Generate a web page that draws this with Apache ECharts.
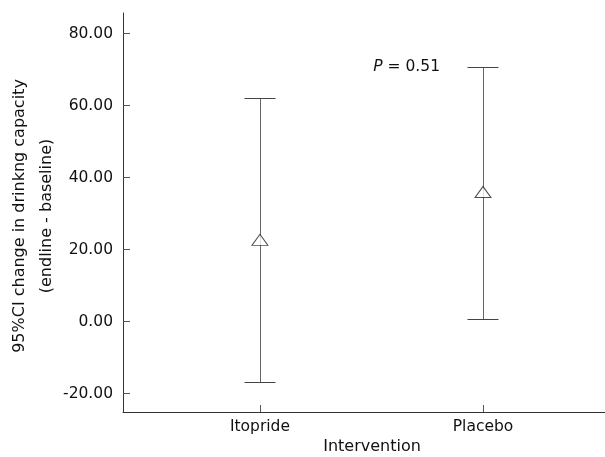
<!DOCTYPE html>
<html>
<head>
    <meta charset="utf-8">
    <title>95%CI change</title>
    <script src="https://cdn.jsdelivr.net/npm/echarts@6/dist/echarts.min.js"></script>
</head>
<body style="margin:0">
    <div id="main" style="width:605px;height:457px;"></div>
    <script type="text/javascript">
        // data
        var categories = ['Itopride', 'Placebo'];
        var means = [22.7, 36.0];
        var lower = [-16.7, 0.8];
        var upper = [62.1, 70.6];
        var yTicks = [-20, 0, 20, 40, 60, 80];

        var font = 'DejaVu Sans';
        var myChart = echarts.init(document.getElementById('main'));

        var barData = categories.map(function (c, i) {
            return [i, lower[i], upper[i]];
        });
        var meanData = categories.map(function (c, i) {
            return [i, means[i]];
        });

        function px(v) { return Math.round(v) + 0.5; }

        option = {
            animation: false,
            grid: { left: 123, right: 0, top: 13, bottom: 45 },
            xAxis: {
                type: 'value',
                min: -0.614,
                max: 1.547,
                splitLine: { show: false },
                axisLine: { onZero: false, lineStyle: { color: '#333', width: 1 } },
                axisTick: { inside: true, length: 7, customValues: [0, 1], lineStyle: { color: '#555' } },
                axisLabel: {
                    customValues: [0, 1],
                    margin: 7,
                    color: '#111',
                    fontFamily: font,
                    fontSize: 15.5,
                    formatter: function (v) { return categories[Math.round(v)]; }
                }
            },
            yAxis: {
                type: 'value',
                min: -25.1,
                max: 85.7,
                splitLine: { show: false },
                axisLine: { show: true, onZero: false, lineStyle: { color: '#333', width: 1 } },
                axisTick: { show: true, inside: true, length: 7, customValues: yTicks, lineStyle: { color: '#555' } },
                axisLabel: {
                    customValues: yTicks,
                    margin: 10,
                    color: '#111',
                    fontFamily: font,
                    fontSize: 15.5,
                    formatter: function (v) { return v.toFixed(2); }
                }
            },
            graphic: [
                {
                    type: 'text',
                    x: 372, y: 447,
                    style: {
                        text: 'Intervention', fill: '#111', font: '16px "DejaVu Sans"',
                        align: 'center', verticalAlign: 'middle'
                    }
                },
                {
                    type: 'text',
                    x: 33, y: 216,
                    rotation: Math.PI / 2,
                    style: {
                        text: '95%CI change in drinkng capacity\n(endline - baseline)',
                        fill: '#111', font: '16px "DejaVu Sans"', lineHeight: 27,
                        align: 'center', verticalAlign: 'middle'
                    }
                },
                {
                    type: 'text',
                    x: 440, y: 67,
                    style: {
                        text: '{p|P} = 0.51',
                        fill: '#111', font: '15.5px "DejaVu Sans"',
                        align: 'right', verticalAlign: 'middle',
                        rich: { p: { fontStyle: 'italic', fontFamily: font, fontSize: 15.5, fill: '#111' } }
                    }
                }
            ],
            series: [
                {
                    type: 'custom',
                    data: barData,
                    renderItem: function (params, api) {
                        var lo = api.coord([api.value(0), api.value(1)]);
                        var hi = api.coord([api.value(0), api.value(2)]);
                        var x = px(lo[0]);
                        var y1 = px(lo[1]), y2 = px(hi[1]);
                        return {
                            type: 'group',
                            children: [
                                { type: 'line', shape: { x1: x, y1: y1, x2: x, y2: y2 }, style: { stroke: '#666', lineWidth: 1 } },
                                { type: 'line', shape: { x1: x - 16, y1: y1, x2: x + 15, y2: y1 }, style: { stroke: '#444', lineWidth: 1 } },
                                { type: 'line', shape: { x1: x - 16, y1: y2, x2: x + 15, y2: y2 }, style: { stroke: '#444', lineWidth: 1 } }
                            ]
                        };
                    },
                    z: 2
                },
                {
                    type: 'scatter',
                    data: meanData,
                    symbol: 'triangle',
                    symbolSize: [16, 11],
                    itemStyle: { color: '#fff', borderColor: '#222', borderWidth: 1 },
                    z: 3
                }
            ]
        };

        myChart.setOption(option);
    </script>
</body>
</html>
